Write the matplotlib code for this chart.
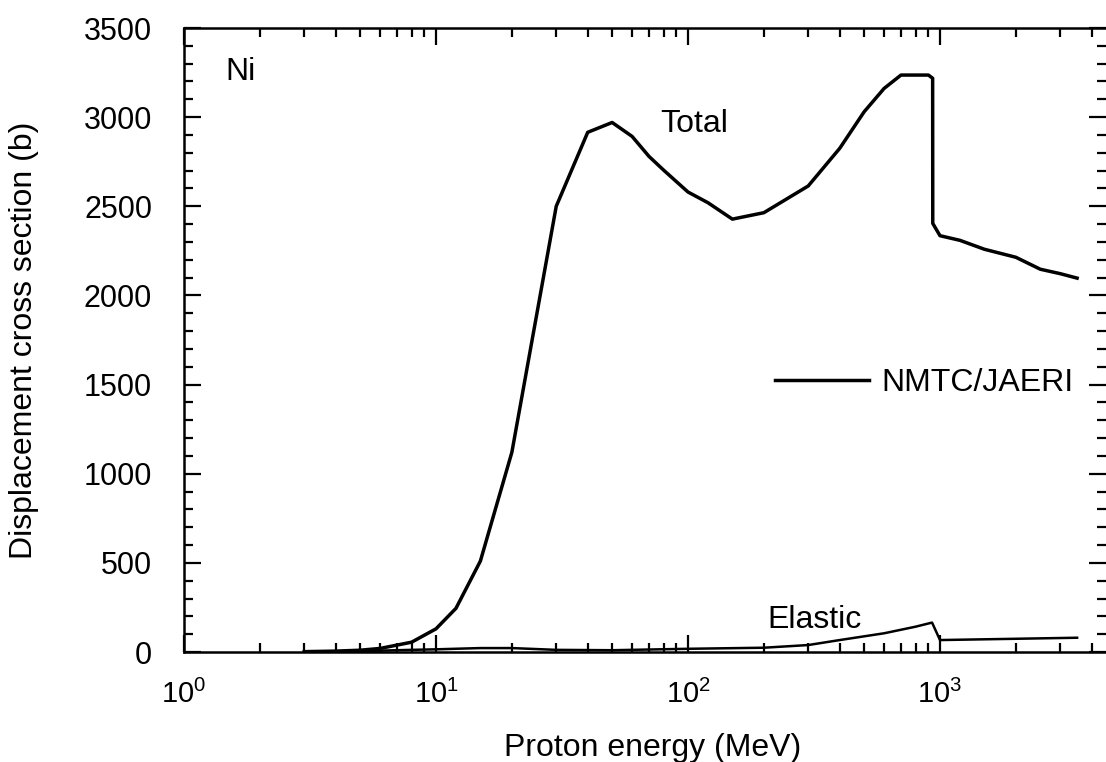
import matplotlib
matplotlib.use("Agg")
import matplotlib.pyplot as plt
from matplotlib.ticker import MultipleLocator, LogLocator, NullFormatter

plt.rcParams['font.family'] = ['Liberation Sans', 'DejaVu Sans']
plt.rcParams['mathtext.fontset'] = 'custom'
plt.rcParams['mathtext.rm'] = 'Liberation Sans'
plt.rcParams['mathtext.it'] = 'Liberation Sans'

# Total displacement cross section (NMTC/JAERI)
total_energy = [3, 4, 5, 6, 8, 10, 12, 15, 20, 30, 40, 50, 60, 70, 80, 100, 120,
                150, 200, 300, 400, 500, 600, 700, 900, 935, 936, 1000, 1200,
                1500, 2000, 2500, 3000, 3500]
total_xs = [2, 5, 10, 20, 55, 130, 245, 510, 1120, 2500, 2915, 2970, 2892, 2780,
            2703, 2580, 2520, 2428, 2464, 2614, 2825, 3030, 3161, 3236, 3236,
            3218, 2404, 2335, 2309, 2259, 2214, 2147, 2122, 2097]

# Elastic contribution
elastic_energy = [3, 5, 8, 10, 15, 20, 30, 50, 100, 200, 300, 400, 600, 800,
                  930, 1000, 3500]
elastic_xs = [0, 5, 12, 15, 22, 22, 12, 10, 18, 24, 39, 67, 105, 142, 165, 67, 80]

y_ticks = [0, 500, 1000, 1500, 2000, 2500, 3000, 3500]

fig = plt.figure(figsize=(11.06, 7.62), dpi=100)
ax = fig.add_axes([184 / 1106, 1 - 652 / 762, 922 / 1106, 624 / 762])

line_total, = ax.plot(total_energy, total_xs, color='black', lw=2.5,
                      solid_joinstyle='round', label='NMTC/JAERI')
ax.plot(elastic_energy, elastic_xs, color='black', lw=1.8, solid_joinstyle='round')

ax.set_xscale('log')
ax.set_xlim(1, 10 ** (922 / 252))
ax.set_ylim(0, 3500)
ax.set_yticks(y_ticks)
ax.yaxis.set_minor_locator(MultipleLocator(100))
ax.xaxis.set_major_locator(LogLocator(base=10, numticks=10))
ax.xaxis.set_minor_locator(LogLocator(base=10, subs=range(2, 10), numticks=20))
ax.xaxis.set_minor_formatter(NullFormatter())

ax.tick_params(which='both', direction='in', top=True, right=True, width=1.6)
ax.tick_params(which='major', length=12)
ax.tick_params(which='minor', length=6.5)
ax.tick_params(axis='y', which='major', pad=23, labelsize=22)
ax.tick_params(axis='x', which='major', pad=20, labelsize=21)

for s in ['left', 'bottom', 'top']:
    ax.spines[s].set_linewidth(1.8)
ax.spines['right'].set_visible(False)

ax.set_xlabel('Proton energy (MeV)', fontsize=23)
ax.set_ylabel('Displacement cross section (b)', fontsize=23)
ax.xaxis.set_label_coords(0.508, -0.13)
ax.yaxis.set_label_coords(-0.157, 0.5)

ax.text((241 - 184) / 922, (652 - 72) / 624, 'Ni', transform=ax.transAxes,
        fontsize=23, ha='center', va='center')
ax.text((694 - 184) / 922, (652 - 124) / 624, 'Total', transform=ax.transAxes,
        fontsize=23, ha='center', va='center')
ax.text((815 - 184) / 922, (652 - 620) / 624, 'Elastic', transform=ax.transAxes,
        fontsize=23, ha='center', va='center')

ax.legend(handles=[line_total], loc='center left',
          bbox_to_anchor=((775 - 184) / 922, (652 - 383) / 624),
          frameon=False, fontsize=23, handlelength=2.95, handletextpad=0.38,
          borderpad=0, borderaxespad=0)

fig.savefig('out.png', dpi=100)
